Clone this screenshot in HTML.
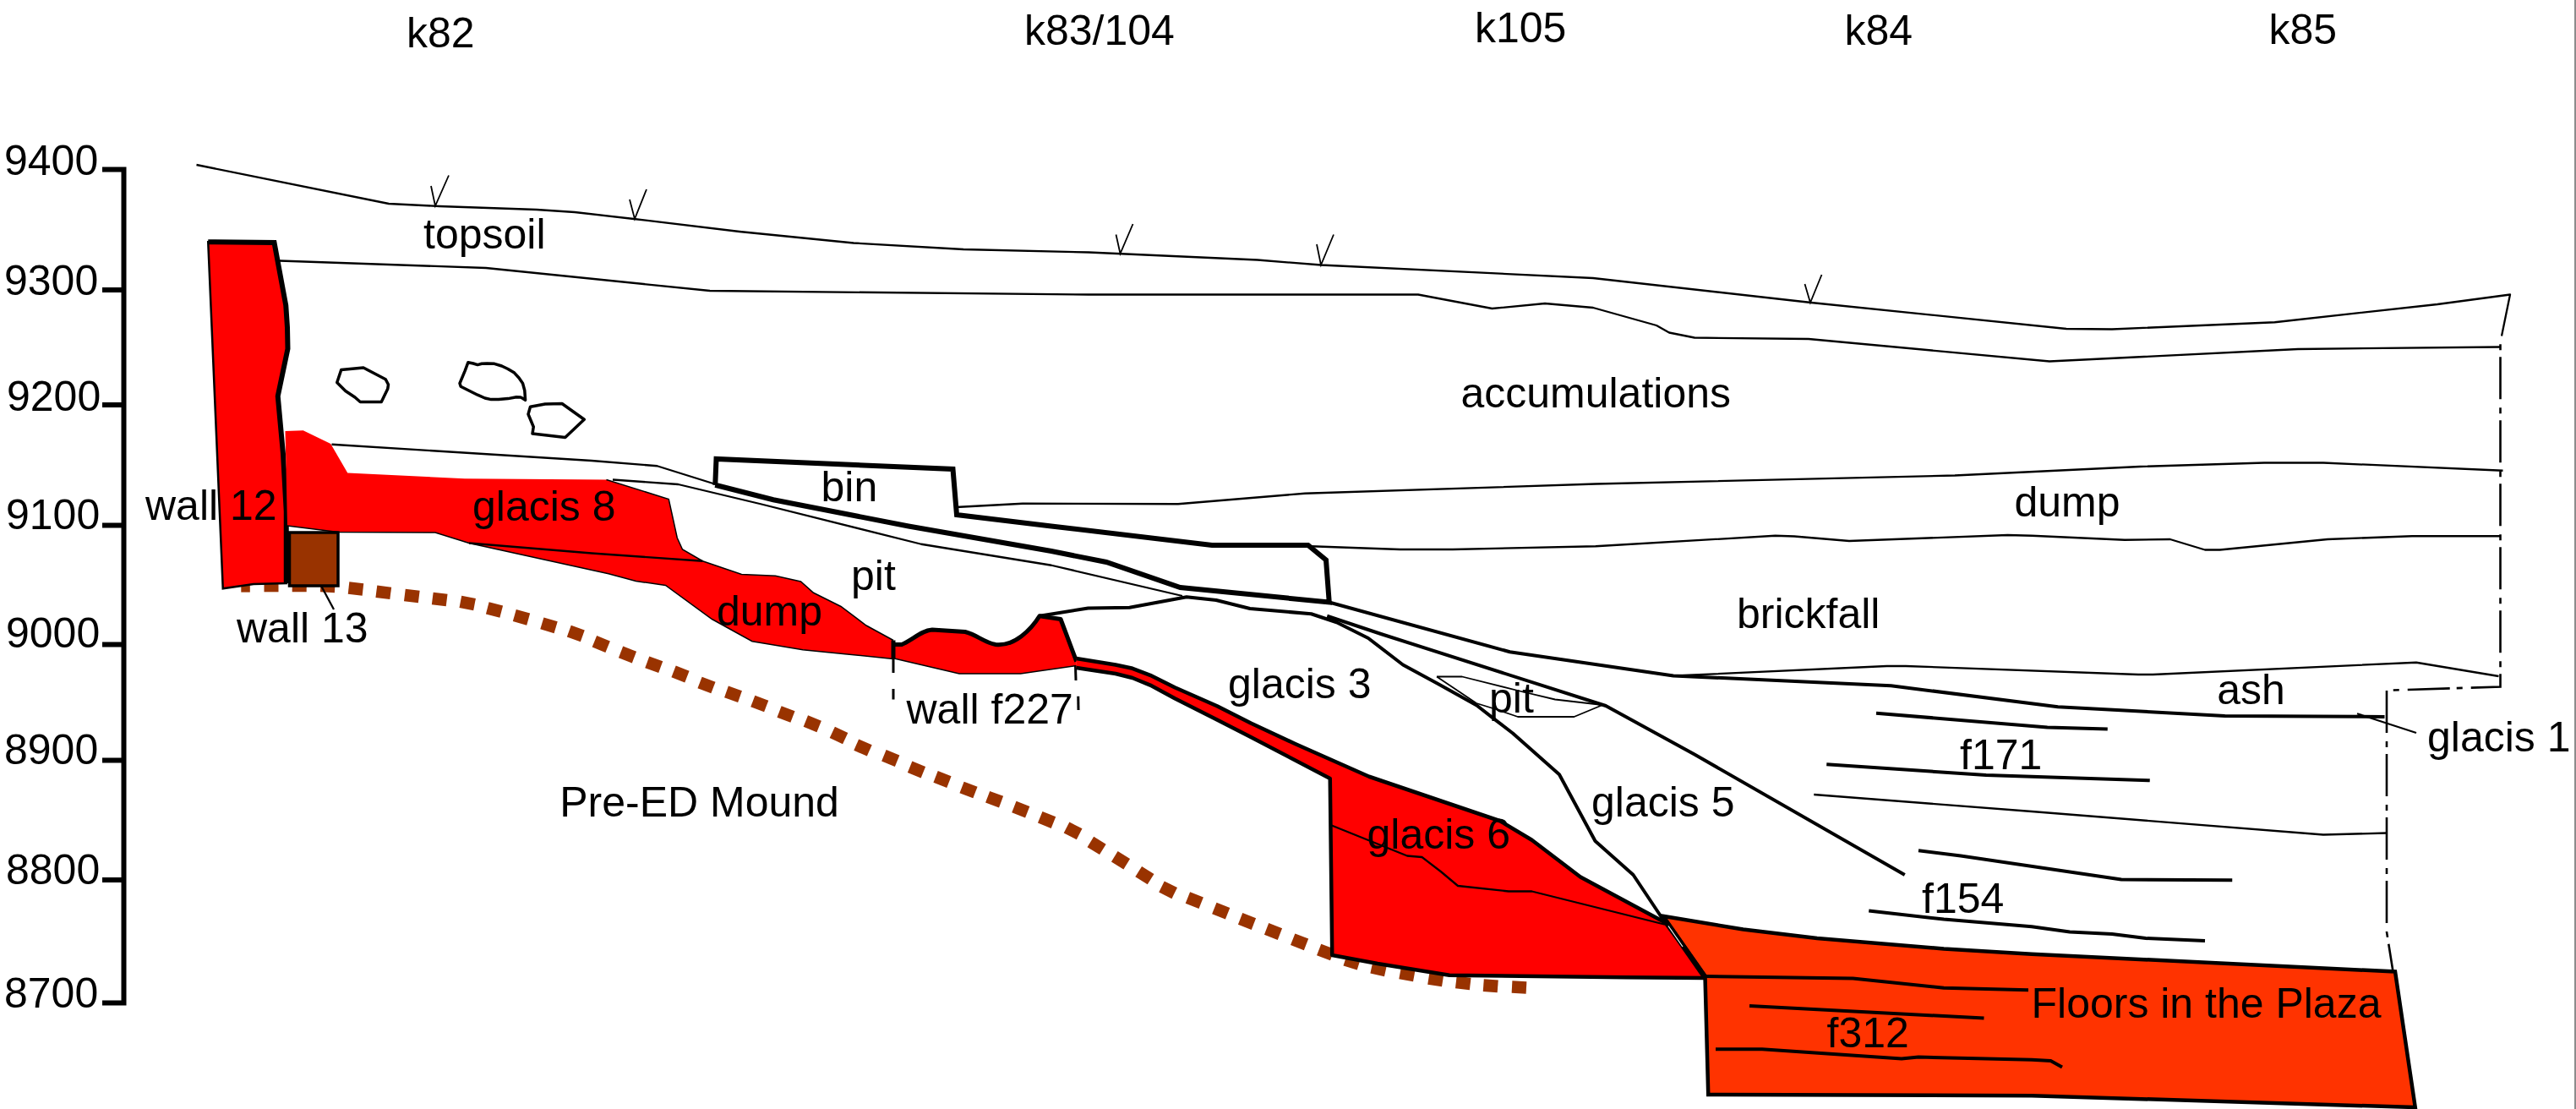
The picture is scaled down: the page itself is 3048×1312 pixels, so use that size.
<!DOCTYPE html>
<html><head><meta charset="utf-8"><title>Section</title>
<style>
html,body{margin:0;padding:0;background:#fff;}
body{width:3048px;height:1312px;overflow:hidden;position:relative;}
svg{position:absolute;left:0;top:0;}
text{font-family:"Liberation Sans",sans-serif;font-size:50px;fill:#000;}
#edge{position:absolute;left:3046px;top:0;width:2px;height:1312px;background:#8c8c8c;}
</style></head><body>
<svg width="3048" height="1312" viewBox="0 0 3048 1312">
<g><rect x="285.3" y="686" width="10.5" height="14.6" fill="#993300"/><rect x="312.5" y="685.7" width="17" height="14.6" transform="rotate(0.0 321 693)" fill="#993300"/><rect x="345.75" y="685.7" width="17" height="14.6" transform="rotate(0.4 354.25 693)" fill="#993300"/><rect x="379.3" y="686.2" width="17" height="14.6" transform="rotate(3.0 387.8 693.5)" fill="#993300"/><rect x="412.5" y="689.2" width="17" height="14.6" transform="rotate(6.3 421 696.5)" fill="#993300"/><rect x="445.3" y="693.5" width="17" height="14.6" transform="rotate(7.3 453.8 700.8)" fill="#993300"/><rect x="478.8" y="697.7" width="17" height="14.6" transform="rotate(7.0 487.3 705)" fill="#993300"/><rect x="511.7" y="701.7" width="17" height="14.6" transform="rotate(7.3 520.2 709)" fill="#993300"/><rect x="544.7" y="706.2" width="17" height="14.6" transform="rotate(10.9 553.2 713.5)" fill="#993300"/><rect x="576.5" y="714.2" width="17" height="14.6" transform="rotate(14.8 585 721.5)" fill="#993300"/><rect x="608.5" y="723" width="17" height="14.6" transform="rotate(15.8 617 730.3)" fill="#993300"/><rect x="641" y="732.5" width="17" height="14.6" transform="rotate(16.6 649.5 739.8)" fill="#993300"/><rect x="672.8" y="742.2" width="17" height="14.6" transform="rotate(19.8 681.3 749.5)" fill="#993300"/><rect x="702.75" y="754.7" width="17" height="14.6" transform="rotate(22.2 711.25 762)" fill="#993300"/><rect x="734" y="767.2" width="17" height="14.6" transform="rotate(21.2 742.5 774.5)" fill="#993300"/><rect x="765.25" y="778.95" width="17" height="14.6" transform="rotate(20.2 773.75 786.25)" fill="#993300"/><rect x="796.5" y="790.2" width="17" height="14.6" transform="rotate(21.3 805 797.5)" fill="#993300"/><rect x="827.5" y="803.2" width="17" height="14.6" transform="rotate(20.8 836 810.5)" fill="#993300"/><rect x="859" y="813.95" width="17" height="14.6" transform="rotate(19.3 867.5 821.25)" fill="#993300"/><rect x="890.25" y="825.2" width="17" height="14.6" transform="rotate(20.8 898.75 832.5)" fill="#993300"/><rect x="921.5" y="837.7" width="17" height="14.6" transform="rotate(20.8 930 845)" fill="#993300"/><rect x="952.75" y="848.95" width="17" height="14.6" transform="rotate(21.8 961.25 856.25)" fill="#993300"/><rect x="984" y="862.7" width="17" height="14.6" transform="rotate(25.3 992.5 870)" fill="#993300"/><rect x="1012.5" y="877.2" width="17" height="14.6" transform="rotate(23.8 1021 884.5)" fill="#993300"/><rect x="1045.25" y="889.7" width="17" height="14.6" transform="rotate(22.3 1053.75 897)" fill="#993300"/><rect x="1076" y="903.2" width="17" height="14.6" transform="rotate(22.2 1084.5 910.5)" fill="#993300"/><rect x="1106.5" y="914.7" width="17" height="14.6" transform="rotate(21.3 1115 922)" fill="#993300"/><rect x="1137.5" y="927.2" width="17" height="14.6" transform="rotate(21.0 1146 934.5)" fill="#993300"/><rect x="1168.1" y="938.4" width="17" height="14.6" transform="rotate(20.5 1176.6 945.7)" fill="#993300"/><rect x="1199.3" y="950.3" width="17" height="14.6" transform="rotate(21.3 1207.8 957.6)" fill="#993300"/><rect x="1230.1" y="962.6" width="17" height="14.6" transform="rotate(22.3 1238.6 969.9)" fill="#993300"/><rect x="1261.1" y="975.6" width="17" height="14.6" transform="rotate(27.3 1269.6 982.9)" fill="#993300"/><rect x="1289.1" y="993.1" width="17" height="14.6" transform="rotate(31.7 1297.6 1000.4)" fill="#993300"/><rect x="1317.5" y="1010.5" width="17" height="14.6" transform="rotate(31.8 1326 1017.8)" fill="#993300"/><rect x="1345.9" y="1028.3" width="17" height="14.6" transform="rotate(32.0 1354.4 1035.6)" fill="#993300"/><rect x="1373.6" y="1045.5" width="17" height="14.6" transform="rotate(26.6 1382.1 1052.8)" fill="#993300"/><rect x="1404.8" y="1057.8" width="17" height="14.6" transform="rotate(21.6 1413.3 1065.1)" fill="#993300"/><rect x="1436.2" y="1070.3" width="17" height="14.6" transform="rotate(21.8 1444.7 1077.6)" fill="#993300"/><rect x="1467" y="1082.7" width="17" height="14.6" transform="rotate(21.5 1475.5 1090)" fill="#993300"/><rect x="1498" y="1094.7" width="17" height="14.6" transform="rotate(21.4 1506.5 1102)" fill="#993300"/><rect x="1529.1" y="1107" width="17" height="14.6" transform="rotate(21.5 1537.6 1114.3)" fill="#993300"/><rect x="1560.1" y="1119.2" width="17" height="14.6" transform="rotate(20.9 1568.6 1126.5)" fill="#993300"/><rect x="1591.3" y="1130.7" width="17" height="14.6" transform="rotate(17.5 1599.8 1138)" fill="#993300"/><rect x="1622.75" y="1138.95" width="17" height="14.6" transform="rotate(12.5 1631.25 1146.25)" fill="#993300"/><rect x="1656.5" y="1145.2" width="17" height="14.6" transform="rotate(10.5 1665 1152.5)" fill="#993300"/><rect x="1690.25" y="1151.45" width="17" height="14.6" transform="rotate(9.0 1698.75 1158.75)" fill="#993300"/><rect x="1722.75" y="1155.7" width="17" height="14.6" transform="rotate(6.6 1731.25 1163)" fill="#993300"/><rect x="1755.25" y="1158.95" width="17" height="14.6" transform="rotate(4.3 1763.75 1166.25)" fill="#993300"/><rect x="1789" y="1160.7" width="17" height="14.6" transform="rotate(3.0 1797.5 1168)" fill="#993300"/></g>
<polygon points="246.25,286.25 324.5,287 338.25,361.25 340,387.5 340.5,412.5 328.75,468.75 335,537 338.75,605 338.75,690 300,691 263.75,696.25" fill="#ff0000" stroke="#000" stroke-width="2.5" stroke-linejoin="miter"/>
<polyline points="246.25,286.25 324.5,287 338.25,361.25 340,387.5 340.5,412.5 328.75,468.75 335,537 338.75,605 338.75,690" fill="none" stroke="#000" stroke-width="6" stroke-linejoin="miter"/>
<polygon points="337.5,510 358.75,509.25 391.25,525 411.25,559.5 550,566.25 717.5,567.5 791.25,590.5 801.25,636.25 807.5,650 831.25,663.75 877.5,679.5 917.5,681.25 947.5,688 962.5,701.25 995,717.5 1025,740 1057,757.5 1057,779.5 1000,773.75 950,768.75 890,758.75 842.5,732.5 787.5,692.5 752.5,687.5 720,678.75 555,642.5 515,630 400,629.5 340,622" fill="#ff0000" stroke="none"/>
<polyline points="717.5,567.5 791.25,590.5 801.25,636.25 807.5,650 831.25,663.75 877.5,679.5 917.5,681.25 947.5,688 962.5,701.25 995,717.5 1025,740 1057,757.5" fill="none" stroke="#000" stroke-width="1.5"/>
<polyline points="1057,779.5 1000,773.75 950,768.75 890,758.75 842.5,732.5 787.5,692.5 752.5,687.5 720,678.75 555,642.5 515,630 400,629.5 340,622" fill="none" stroke="#000" stroke-width="1.5"/>
<rect x="342.5" y="630" width="57.5" height="63" fill="#993300" stroke="#000" stroke-width="3.5"/>
<polygon points="403.75,437.5 430,435 456.25,448.75 459.5,455 458.75,460 451.25,475.5 426.25,475.5 420,470 408.75,462.5 398.75,452.5" fill="none" stroke="#000" stroke-width="3.5" stroke-linejoin="round"/>
<polygon points="553.9,428.7 560,430 565.1,431.6 570,430.3 576.3,429.9 585,430.3 593.7,433 601,436.5 608.6,441.1 614,447 618.5,453.5 620.8,462 621.6,473.4 618,471 616,470 611,469.7 601.1,471.6 590,472.5 581.2,472.6 573.8,471 565.1,467.2 545.2,457.3 544,453.5 550.2,438.6" fill="none" stroke="#000" stroke-width="3.5" stroke-linejoin="round"/>
<polygon points="627.5,481.25 645,478 665,477.5 691.25,496.25 668.75,517.5 630,513 631.25,505 625,490" fill="none" stroke="#000" stroke-width="3.5" stroke-linejoin="round"/>
<polyline points="846.25,573.75 847.5,543 1127.5,555 1132,609 1244,622.5 1434,645 1547.75,645 1569,662.5 1572.75,712.5 1396.5,695 1309,665 1244,652 1075,622.5 915,591.25 846.25,573.75" fill="none" stroke="#000" stroke-width="6" stroke-linejoin="miter"/>
<path d="M1057,762.5 L1067,762.5 C1080,757 1090,746 1103,745 L1142,747.5 C1156,751 1164,760 1178,762.5 C1200,765 1220,745 1230,728.75 L1255,732.5 L1273.75,782.5 L1273.75,787.5 L1207.5,797 L1135,797 L1057,778.75 Z" fill="#ff0000" stroke="none"/>
<polyline points="1057,757.5 1057,780" fill="none" stroke="#000" stroke-width="5"/>
<path d="M1057,762.5 L1067,762.5 C1080,757 1090,746 1103,745 L1142,747.5 C1156,751 1164,760 1178,762.5 C1200,765 1220,745 1230,728.75 L1255,732.5 L1273.75,782.5" fill="none" stroke="#000" stroke-width="5" stroke-linejoin="round"/>
<polyline points="1057,778.75 1135,797 1207.5,797 1273.75,787.5" fill="none" stroke="#000" stroke-width="1.5"/>
<polyline points="1057,780 1057,796" fill="none" stroke="#000" stroke-width="3"/>
<polyline points="1057,815 1057,827.5" fill="none" stroke="#000" stroke-width="3"/>
<polyline points="1272.5,787.5 1273,805" fill="none" stroke="#000" stroke-width="3"/>
<polyline points="1275.75,823.75 1276,840" fill="none" stroke="#000" stroke-width="3"/>
<polygon points="1273.5,779 1320,786.5 1340,790.8 1361,798.8 1390,813.2 1440,835.2 1480,855.5 1532.5,880 1620,918.75 1775,971.25 1812.5,993.75 1870,1037.5 1970,1091.25 2017.5,1157 1924,1156.25 1715,1153.75 1630,1140 1576.25,1130 1573.75,921 1573.75,921 1573.75,921 1480,872 1440,851.4 1390,826.2 1361,810.6 1340,802 1320,797 1273.5,790" fill="#ff0000" stroke="none"/>
<polyline points="1273.5,779 1320,786.5 1340,790.8 1361,798.8 1390,813.2 1440,835.2 1480,855.5 1532.5,880 1620,918.75 1775,971.25 1812.5,993.75 1870,1037.5 1970,1091.25" fill="none" stroke="#000" stroke-width="4.5" stroke-linejoin="round"/>
<polyline points="1273.5,790 1320,797 1340,802 1361,810.6 1390,826.2 1440,851.4 1480,872 1573.75,921 1576.25,1130 1630,1140 1715,1153.75 1924,1156.25 2017.5,1157" fill="none" stroke="#000" stroke-width="4.5" stroke-linejoin="round"/>
<polygon points="1967.5,1083.75 2062.5,1099.5 2150,1110 2300,1122.5 2404,1128.75 2834,1149.5 2857.75,1310 2404,1296.25 2021.25,1295 2017.5,1155" fill="#ff3300" stroke="#000" stroke-width="4.5" stroke-linejoin="miter"/>
<polyline points="2017.5,1155 2192.5,1157.5 2300,1168.75 2400,1171.25" fill="none" stroke="#000" stroke-width="4" stroke-linejoin="round"/>
<polyline points="2070,1190 2347.5,1204.5" fill="none" stroke="#000" stroke-width="4" stroke-linejoin="round"/>
<polyline points="2030,1241.25 2085,1241.25 2250,1252.5 2270,1250.5 2404,1253.75 2426.5,1255 2440,1262.5" fill="none" stroke="#000" stroke-width="4" stroke-linejoin="round"/>
<polyline points="232.5,195 460,241 520,244 635,248 680,251 750,259 875,274 1010,287.5 1140,295 1288,298.5 1488,307.5 1563,313.5 1885,329 2143,358 2445,389 2499,389.5 2691.5,381.25 2884,360 2970,348.5 2960,397.5" fill="none" stroke="#000" stroke-width="2.3" stroke-linejoin="round"/>
<polyline points="331,308.5 575,317 840,344 1288,348.5 1678,348.5 1765.5,365 1828,359 1885,364 1960,385 1975,393.5 2005,399.5 2140,401 2425,427.5 2719,413 2958,410.5" fill="none" stroke="#000" stroke-width="2.3" stroke-linejoin="round"/>
<polyline points="392.5,525.75 700,545 777.5,551.25 847,573" fill="none" stroke="#000" stroke-width="2.3" stroke-linejoin="round"/>
<polyline points="725,567.5 802.5,573 900,596.25 1090,643.75 1244,668.75 1399,705" fill="none" stroke="#000" stroke-width="2.3" stroke-linejoin="round"/>
<polyline points="1131,600 1210,595.75 1394,596.25 1544,583.75 1888,572.5 2313,562.5 2532,552 2679,547.5 2749,547.5 2961.5,556.75" fill="none" stroke="#000" stroke-width="2.3" stroke-linejoin="round"/>
<polyline points="1551.5,646.25 1656.5,650 1719,650 1888,646.25 2100.5,633.75 2123,634.5 2188,640 2375.5,633 2404,633.75 2514,638.75 2567.75,638 2609,650.5 2626.5,650.5 2754,638 2854,634.25 2958,634.25" fill="none" stroke="#000" stroke-width="2.3" stroke-linejoin="round"/>
<polyline points="1980,799.5 2232.5,788 2255,788 2530,798 2547.5,798 2859,783.75 2956.5,800" fill="none" stroke="#000" stroke-width="2.3" stroke-linejoin="round"/>
<polyline points="2146.25,940 2404,960 2749,987.5 2824,985.5" fill="none" stroke="#000" stroke-width="2.3" stroke-linejoin="round"/>
<polyline points="1575,976.25 1665,1012.5 1682.5,1014 1705,1031.25 1725,1048 1785,1054.5 1812.5,1054.5 1970,1093.75" fill="none" stroke="#000" stroke-width="2.3" stroke-linejoin="round"/>
<polyline points="555,642.5 700,654.5 831.25,663.75" fill="none" stroke="#000" stroke-width="2.3" stroke-linejoin="round"/>
<polyline points="2789,844.25 2859,867" fill="none" stroke="#000" stroke-width="2.3" stroke-linejoin="round"/>
<polyline points="380,693 395,721" fill="none" stroke="#000" stroke-width="2.3" stroke-linejoin="round"/>
<polyline points="1700,800.5 1730,800.5 1800,818 1840,827.5 1896.25,834 1862.5,848 1796,848 1768,838.5 1747,832 1700,800.5" fill="none" stroke="#000" stroke-width="1.8" stroke-linejoin="round"/>
<polyline points="1230,728.75 1287.5,719.5 1336.5,718.75 1404,706.25 1439,710 1479,720 1551.5,726.25 1581.5,736.25 1619,755 1660,786.5 1701.5,809 1747.3,834.5 1768.3,850.8 1790,867.5 1845,916.25 1887.5,995 1932.5,1035 1970,1091.25 2017.5,1155" fill="none" stroke="#000" stroke-width="4" stroke-linejoin="round"/>
<polyline points="1572.75,712.5 1786.5,771.25 1980,799.5 2237.5,811.25 2435,836.25 2632.5,847 2821.5,848" fill="none" stroke="#000" stroke-width="4" stroke-linejoin="round"/>
<polyline points="1570.25,728.75 1634,750 1900,835 2005,892.5 2253.75,1035" fill="none" stroke="#000" stroke-width="4" stroke-linejoin="round"/>
<polyline points="2220,843.75 2422.5,860.5 2493.75,862.5" fill="none" stroke="#000" stroke-width="4" stroke-linejoin="round"/>
<polyline points="2161.25,904.25 2350,917 2543.75,923.25" fill="none" stroke="#000" stroke-width="4" stroke-linejoin="round"/>
<polyline points="2270,1006.25 2320,1012.5 2510,1040.5 2641.25,1041.25" fill="none" stroke="#000" stroke-width="4" stroke-linejoin="round"/>
<polyline points="2211.25,1077.5 2300,1087.5 2404,1096.25 2449,1102.5 2499,1105 2539,1110 2609,1113" fill="none" stroke="#000" stroke-width="4" stroke-linejoin="round"/>
<polyline points="1967,1084 2017,1155.5" fill="none" stroke="#000" stroke-width="6.5"/>
<polyline points="1974,1095.5 1991,1120" fill="none" stroke="#fff" stroke-width="1.2"/>
<polyline points="2958.5,407.3 2958.5,812.5 2824,816.75 2824,1102.5 2831.5,1149.5" fill="none" stroke="#000" stroke-width="2.6" stroke-dasharray="50 10 7 8" stroke-dashoffset="60"/>
<polyline points="121,200.6 146.5,200.6 146.5,1186.5 121,1186.5" fill="none" stroke="#000" stroke-width="6"/>
<line x1="121" y1="343" x2="146.5" y2="343" stroke="#000" stroke-width="6"/>
<line x1="121" y1="479" x2="146.5" y2="479" stroke="#000" stroke-width="6"/>
<line x1="121" y1="621.5" x2="146.5" y2="621.5" stroke="#000" stroke-width="6"/>
<line x1="121" y1="762.5" x2="146.5" y2="762.5" stroke="#000" stroke-width="6"/>
<line x1="121" y1="899.5" x2="146.5" y2="899.5" stroke="#000" stroke-width="6"/>
<line x1="121" y1="1041" x2="146.5" y2="1041" stroke="#000" stroke-width="6"/>
<polyline points="510,220 515,243.5 531,207.5" fill="none" stroke="#000" stroke-width="1.8"/>
<polyline points="745,236 751,259 765,224" fill="none" stroke="#000" stroke-width="1.8"/>
<polyline points="1320.5,277.5 1325.5,300 1340.5,265" fill="none" stroke="#000" stroke-width="1.8"/>
<polyline points="1558,289 1563,313.5 1578,277.5" fill="none" stroke="#000" stroke-width="1.8"/>
<polyline points="2135.5,336 2142,358 2155.5,325" fill="none" stroke="#000" stroke-width="1.8"/>
<text transform="translate(481 56) scale(1 1.015)">k82</text>
<text transform="translate(1212 52.5) scale(1 1.015)">k83/104</text>
<text transform="translate(1745 50) scale(1 1.015)">k105</text>
<text transform="translate(2182.5 52.5) scale(1 1.015)">k84</text>
<text transform="translate(2684.5 52) scale(1 1.015)">k85</text>
<text transform="translate(501 293.75) scale(1 1.015)">topsoil</text>
<text transform="translate(1728.5 482) scale(1 1.015)">accumulations</text>
<text transform="translate(971.5 593) scale(1 1.015)">bin</text>
<text transform="translate(172 615) scale(1 1.015)">wall 12</text>
<text transform="translate(559 616) scale(1 1.015)">glacis 8</text>
<text transform="translate(2383.5 611.25) scale(1 1.015)">dump</text>
<text transform="translate(1007 697.5) scale(1 1.015)">pit</text>
<text transform="translate(848 740) scale(1 1.015)">dump</text>
<text transform="translate(2055 742.5) scale(1 1.015)">brickfall</text>
<text transform="translate(280 760) scale(1 1.015)">wall 13</text>
<text transform="translate(1072.5 856.25) scale(1 1.015)">wall f227</text>
<text transform="translate(1453 826.25) scale(1 1.015)">glacis 3</text>
<text transform="translate(1762 842.5) scale(1 1.015)">pit</text>
<text transform="translate(2623.25 832.5) scale(1 1.015)">ash</text>
<text transform="translate(2872 888.75) scale(1 1.015)">glacis 1</text>
<text transform="translate(2319 910) scale(1 1.015)">f171</text>
<text transform="translate(662.25 966.25) scale(1 1.015)">Pre-ED Mound</text>
<text transform="translate(1883 966.25) scale(1 1.015)">glacis 5</text>
<text transform="translate(1617.5 1003.75) scale(1 1.015)">glacis 6</text>
<text transform="translate(2274 1080) scale(1 1.015)">f154</text>
<text transform="translate(2161.5 1238.75) scale(1 1.015)">f312</text>
<text transform="translate(2403.5 1203.75) scale(1 1.015)">Floors in the Plaza</text>
<text transform="translate(5 206.5) scale(1 1.015)">9400</text>
<text transform="translate(5 348.5) scale(1 1.015)">9300</text>
<text transform="translate(8 486) scale(1 1.015)">9200</text>
<text transform="translate(7 626) scale(1 1.015)">9100</text>
<text transform="translate(7 766) scale(1 1.015)">9000</text>
<text transform="translate(5 904) scale(1 1.015)">8900</text>
<text transform="translate(7 1045.5) scale(1 1.015)">8800</text>
<text transform="translate(5 1191.5) scale(1 1.015)">8700</text>
</svg>
<div id="edge"></div>
</body></html>
